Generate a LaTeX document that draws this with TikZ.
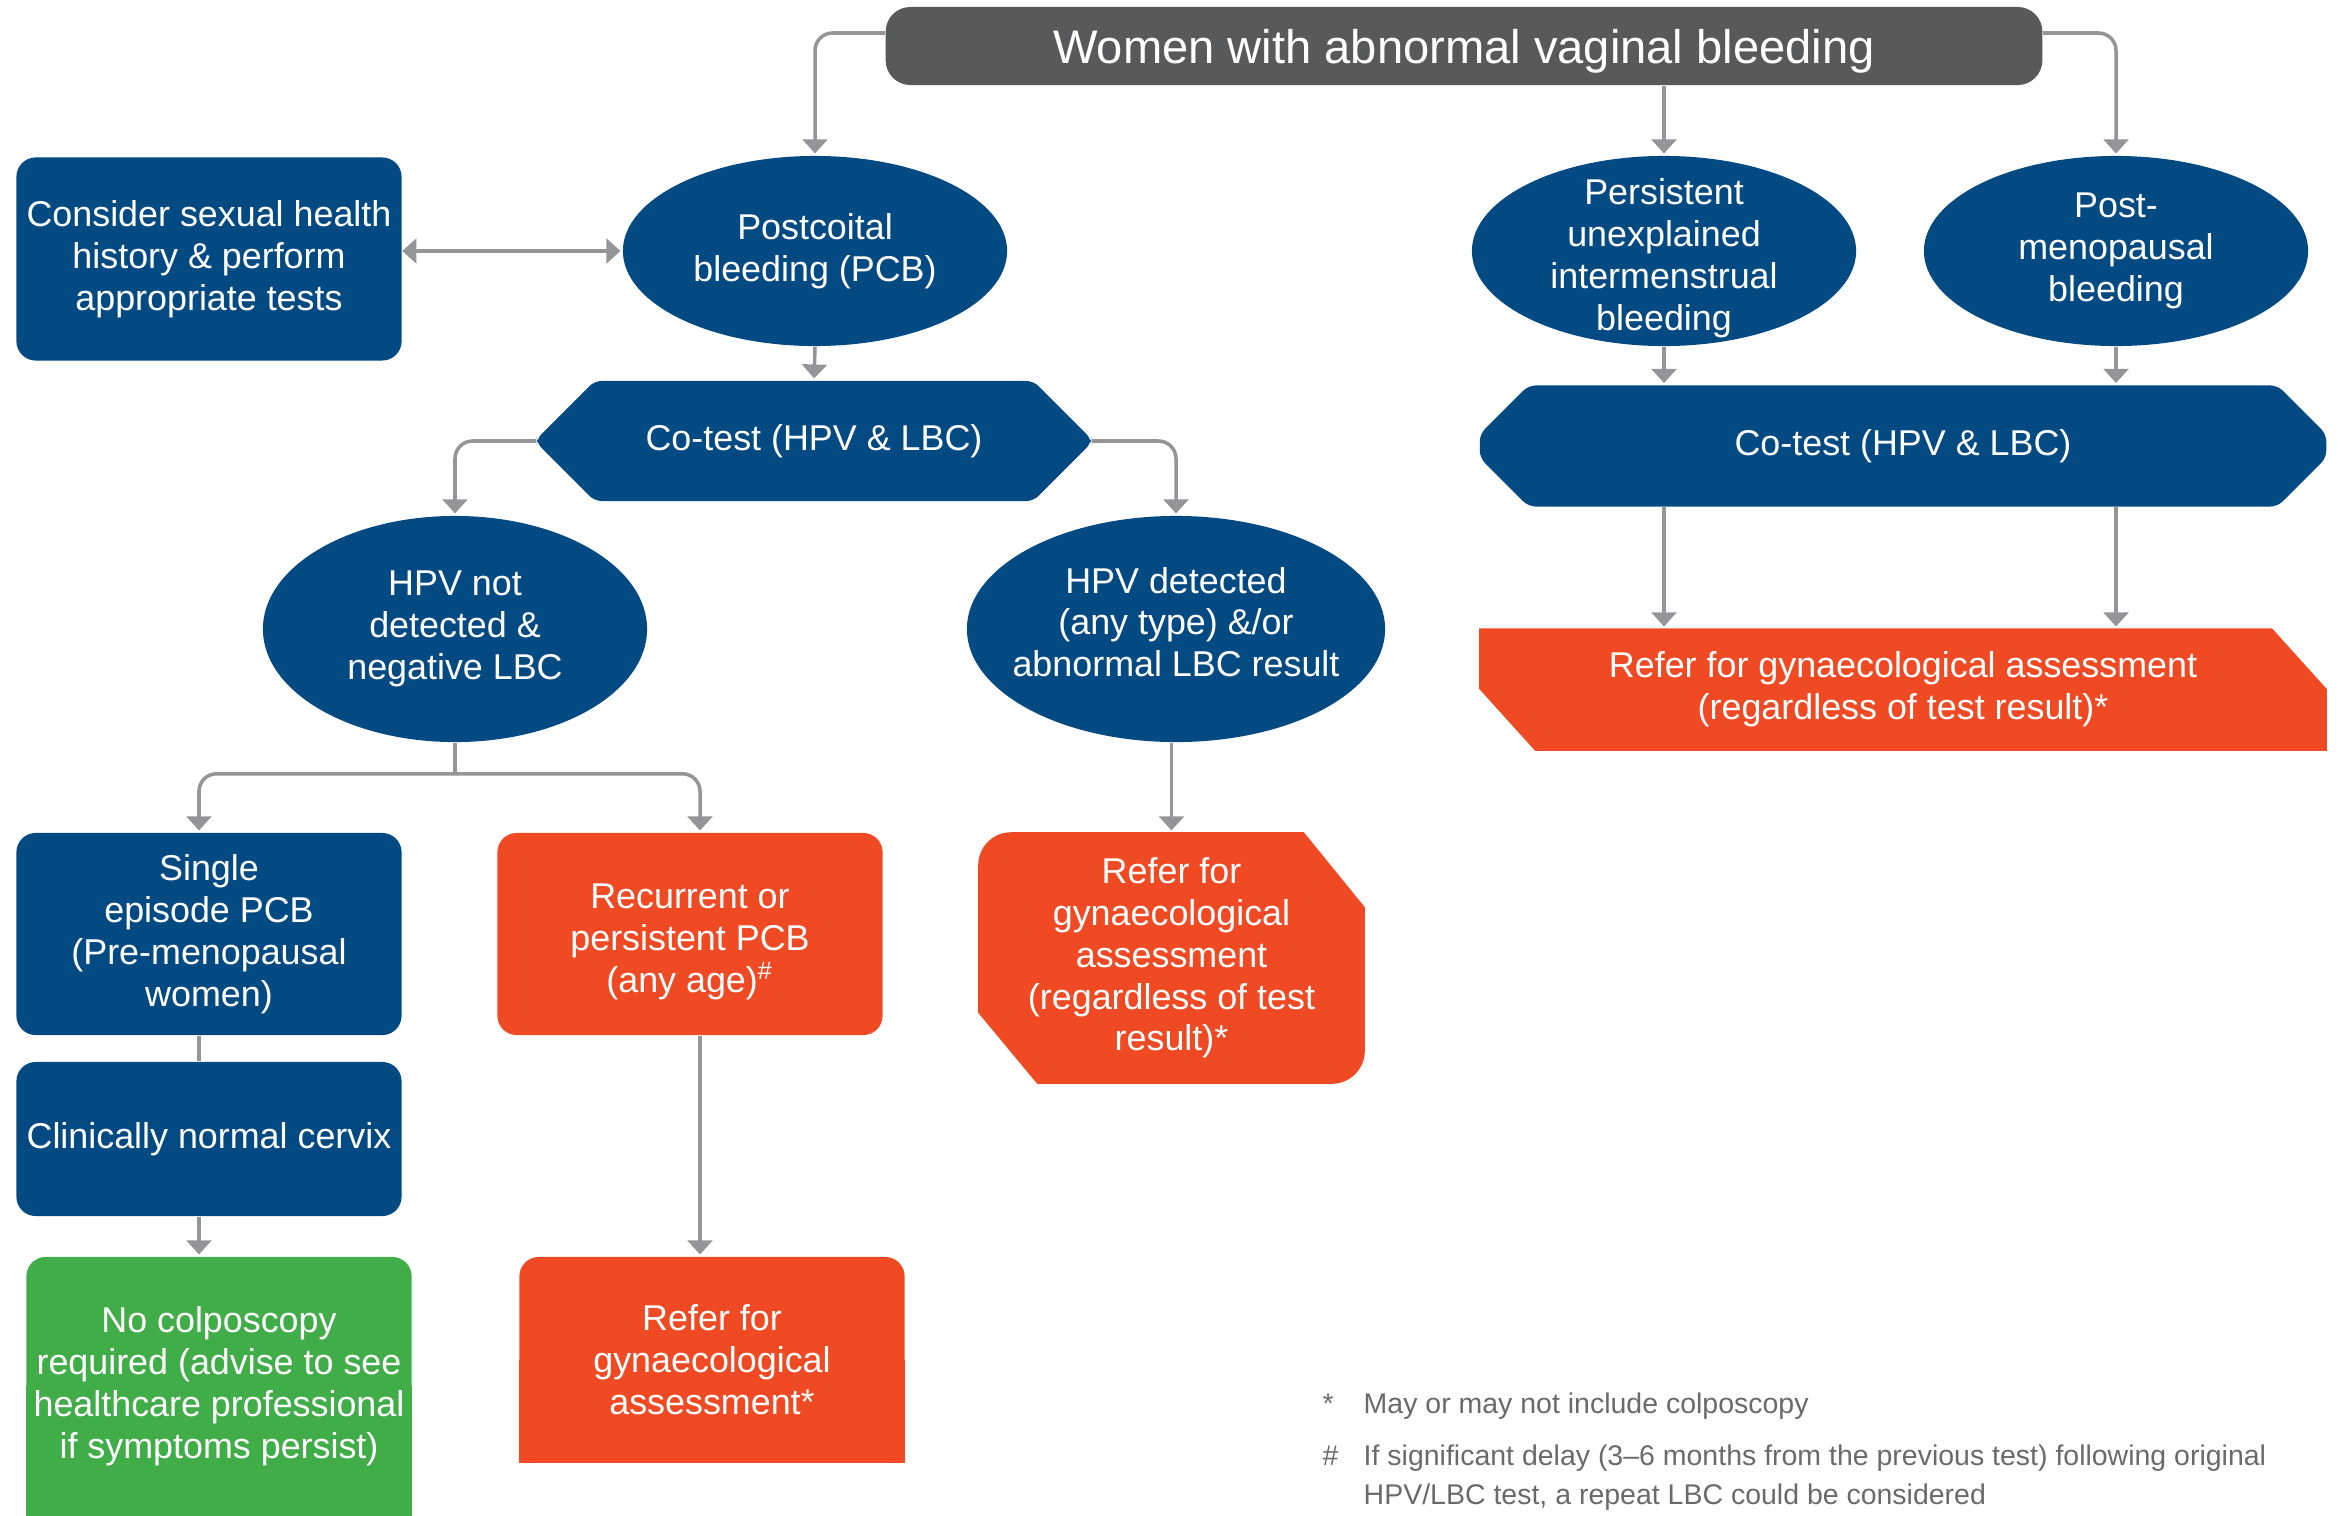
\documentclass[tikz,border=0pt]{standalone}
\usepackage{fontspec}
\setmainfont{Liberation Sans}
\usetikzlibrary{shapes.geometric,shapes.misc,arrows.meta,calc,backgrounds}

\definecolor{navy}{RGB}{3,73,130}
\definecolor{flame}{RGB}{239,74,35}
\definecolor{leaf}{RGB}{65,173,73}
\definecolor{slate}{RGB}{88,89,91}
\definecolor{wire}{RGB}{147,149,152}
\definecolor{notegrey}{RGB}{105,106,108}

\tikzset{
  txt/.style={text=white, align=center, inner sep=0pt, font=\fontsize{10.2}{11.9}\selectfont},
  oval/.style={txt, ellipse, fill=navy, inner xsep=-0.3cm, inner ysep=-0.2cm,
    minimum width=3.84cm, minimum height=1.9cm},
  navybox/.style={txt, rectangle, fill=navy, rounded corners=5.5pt, minimum width=3.85cm},
  flamebox/.style={txt, rectangle, fill=flame, rounded corners=5.5pt, minimum width=3.85cm},
  cotest/.style={txt, chamfered rectangle, fill=navy, rounded corners=2pt},
  arr/.style={draw=wire, line width=1pt, rounded corners=5pt, shorten >=0.5pt,
    -{Triangle[width=7pt,length=4pt]}},
  ln/.style={draw=wire, line width=1pt, rounded corners=5pt},
  note/.style={text=notegrey, inner sep=0pt, font=\fontsize{8.1}{10}\selectfont},
}

\begin{document}
\begin{tikzpicture}[x=0.01cm, y=-0.01cm]
  \useasboundingbox (0,0) rectangle (2346,1515);

  \node[txt, fill=slate, rounded corners=7pt, minimum width=11.56cm, minimum height=0.78cm, text depth=0pt,
    font=\fontsize{13.4}{16}\selectfont] (title) at (1464,46) {Women with abnormal vaginal bleeding};

  \node[oval] (pcb) at (815,251) {Postcoital\\bleeding (PCB)};
  \node[oval] (pim) at (1664,251) {\rule{0pt}{11.5pt}Persistent\\unexplained\\intermenstrual\\bleeding};
  \node[oval] (pmb) at (2116,251) {Post-\\menopausal\\bleeding};
  \node[navybox, minimum height=2.03cm] (sex) at (209,259) {Consider sexual health\\history \& perform\\appropriate tests};

  \node[cotest, minimum width=5.54cm, minimum height=1.2cm, chamfered rectangle xsep=0.44cm,
    chamfered rectangle ysep=0.41cm] (coL) at (814,441) {Co-test (HPV \& LBC)};
  \node[cotest, minimum width=8.46cm, minimum height=1.21cm, chamfered rectangle xsep=0.7cm,
    chamfered rectangle ysep=0.32cm] (coR) at (1903,446) {Co-test (HPV \& LBC)};

  \node[oval, minimum height=2.26cm] (neg) at (455,629) {HPV not\\detected \&\\negative LBC};
  \node[oval, minimum width=4.18cm, minimum height=2.26cm] (pos) at (1176,629) {HPV detected\\(any type) \&/or\\abnormal LBC result\rule[-4pt]{0pt}{4pt}};

  \node[txt, minimum width=8.46cm, minimum height=1.21cm] (refR) at (1903,689.5) {Refer for gynaecological assessment\\(regardless of test result)*};

  \node[navybox, minimum height=2.02cm] (single) at (209,934) {Single\\episode PCB\\(Pre-menopausal\\women)};
  \node[navybox, minimum height=1.54cm] (normal) at (209,1139) {Clinically normal cervix};
  \node[flamebox, minimum height=2.02cm] (recur) at (690,934) {\rule{0pt}{11.3pt}Recurrent or\\persistent PCB\\(any age)\textsuperscript{\#}};
  \node[txt, minimum width=3.85cm, minimum height=2.5cm] (refM) at (1171.5,958) {Refer for\\gynaecological\\assessment\\(regardless of test\\result)*};

  \node[txt, fill=leaf, rounded corners=5.5pt, minimum width=3.85cm, minimum height=2.58cm] (nocol) at (219,1386) {No colposcopy\\required (advise to see\\healthcare professional\\if symptoms persist)};
  \node[flamebox, minimum height=2.05cm] (refB) at (712,1359.5) {Refer for\\gynaecological\\assessment*};

  \begin{scope}[on background layer]
    \fill[flame] (refR.north west) -- ($(refR.north east)+(-55,0)$) -- ($(refR.north east)+(0,61)$)
      -- (refR.south east) -- ($(refR.south west)+(56,0)$) -- ($(refR.south west)+(0,-62)$) -- cycle;
    \fill[flame] ($(refM.north west)+(0,33)$) arc[start angle=180, end angle=90, radius=0.33cm]
      -- ($(refM.north east)+(-61,0)$) -- ($(refM.north east)+(0,75)$)
      -- ($(refM.south east)+(0,-33)$) arc[start angle=0, end angle=-90, radius=0.33cm]
      -- ($(refM.south west)+(59,0)$) -- ($(refM.south west)+(0,-71)$) -- cycle;
    \fill[leaf] (nocol.south west) rectangle (nocol.east);
    \fill[flame] (refB.south west) rectangle (refB.east);
  \end{scope}

  \draw[arr] ([yshift=0.13cm]title.west) -| (pcb.north);
  \draw[arr] (title.south -| pim.north) -- (pim.north);
  \draw[arr] ([yshift=0.13cm]title.east) -| (pmb.north);
  \draw[arr, {Triangle[width=7pt,length=4pt]}-{Triangle[width=7pt,length=4pt]}] (sex.east |- pcb.west) -- (pcb.west);

  \draw[arr] (pcb.south) -- (coL.north);
  \foreach \n in {pim,pmb} {
    \draw[arr] (\n.south) -- (\n.south |- coR.north);
    \draw[arr] (\n.south |- coR.south) -- (\n.south |- refR.north);
  }
  \draw[arr] (coL.west) -| (neg.north);
  \draw[arr] (coL.east) -| (pos.north);

  \draw[ln] (neg.south) -- ++(0,31) coordinate (fork);
  \draw[arr] (fork) -| ([xshift=-0.1cm]single.north);
  \draw[arr] (fork) -| ([xshift=0.1cm]recur.north);
  \draw[ln] ([xshift=-0.1cm]single.south) -- ([xshift=-0.1cm]normal.north);
  \draw[arr] ([xshift=-0.1cm]normal.south) coordinate (n1) -- (n1 |- nocol.north);
  \draw[arr] ([xshift=0.1cm]recur.south) coordinate (r1) -- (r1 |- refB.north);
  \draw[arr] (refM.north |- pos.south) -- (refM.north);

  \node[note, anchor=base west] (star) at (1322,1413) {*};
  \node[note, anchor=base west] (fn1) at (1363,1413) {May or may not include colposcopy};
  \node[note, anchor=base west] (hash) at (1322,1465) {\#};
  \node[note, anchor=base west] (fn2) at (1363,1465) {If significant delay (3–6 months from the previous test) following original};
  \node[note, anchor=base west] (fn3) at (1363,1504) {HPV/LBC test, a repeat LBC could be considered};
\end{tikzpicture}
\end{document}
